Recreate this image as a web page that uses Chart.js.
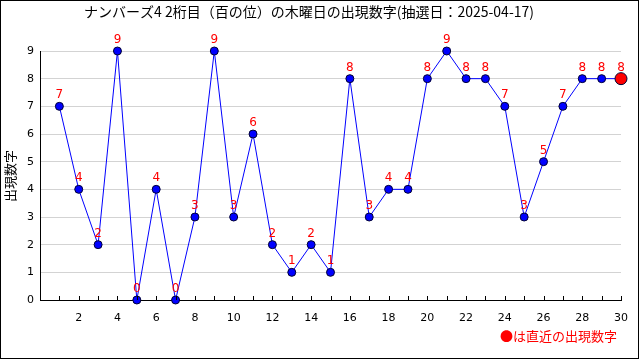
<!DOCTYPE html>
<html>
<head>
<meta charset="utf-8">
<script src="https://cdn.jsdelivr.net/npm/chart.js@4"></script>
<style>
  html, body { margin: 0; padding: 0; background: #fff; }
  #wrap { width: 640px; height: 360px; }
</style>
</head>
<body>
<div id="wrap"><canvas id="digitChart" width="640" height="360"></canvas></div>
<script>
// draw numbers (1..30) and the digit that came up
const draws = [1, 2, 3, 4, 5, 6, 7, 8, 9, 10, 11, 12, 13, 14, 15, 16, 17, 18, 19, 20, 21, 22, 23, 24, 25, 26, 27, 28, 29, 30];
const digits = [7, 4, 2, 9, 0, 4, 0, 3, 9, 3, 6, 2, 1, 2, 1, 8, 3, 4, 4, 8, 9, 8, 8, 7, 3, 5, 7, 8, 8, 8];
const yTicks = [0, 1, 2, 3, 4, 5, 6, 7, 8, 9];
const xLabels = [2, 4, 6, 8, 10, 12, 14, 16, 18, 20, 22, 24, 26, 28, 30];

const titleText = "ナンバーズ4 2桁目（百の位）の木曜日の出現数字(抽選日：2025-04-17)";
const yTitle = "出現数字";
const noteText = "●は直近の出現数字";

const lastIdx = digits.length - 1;
const cjk = '"Noto Sans CJK JP", "DejaVu Sans", sans-serif';

// title, axis title, value labels, inward ticks, frame
const decor = {
  id: "decor",
  afterDatasetsDraw(chart) {
    const c = chart.ctx;
    const x = chart.scales.x;
    const area = chart.chartArea;
    c.save();

    // ticks on the x axis, pointing up
    c.strokeStyle = "#000";
    c.lineWidth = 1;
    c.beginPath();
    draws.forEach(d => {
      const px = Math.round(x.getPixelForValue(d)) + 0.5;
      c.moveTo(px, area.bottom);
      c.lineTo(px, area.bottom - 4);
    });
    c.stroke();

    // value labels above each point
    c.fillStyle = "#ff0000";
    c.font = '12px "DejaVu Sans", sans-serif';
    c.textAlign = "center";
    c.textBaseline = "bottom";
    chart.getDatasetMeta(0).data.forEach((pt, i) => {
      c.fillText(String(digits[i]), pt.x, pt.y - 5);
    });

    // title
    c.fillStyle = "#000";
    c.font = "14px " + cjk;
    c.textBaseline = "middle";
    c.fillText(titleText, 309, 12);

    // y axis title
    c.font = "13px " + cjk;
    c.save();
    c.translate(10, 176);
    c.rotate(-Math.PI / 2);
    c.fillText(yTitle, 0, 0);
    c.restore();

    // note at bottom right
    c.fillStyle = "#ff0000";
    c.textAlign = "right";
    c.fillText(noteText, 617, 336);

    // outer frame
    c.strokeStyle = "#000";
    c.strokeRect(0.5, 0.5, 638, 358);
    c.restore();
  }
};

new Chart(document.getElementById("digitChart"), {
  type: "line",
  data: {
    datasets: [
      {
        data: draws.map((d, i) => ({ x: d, y: digits[i] })),
        borderColor: "#0000ff",
        borderWidth: 1,
        tension: 0,
        fill: false,
        clip: false,
        pointRadius: digits.map((v, i) => (i === lastIdx ? 6 : 4)),
        pointBackgroundColor: digits.map((v, i) => (i === lastIdx ? "#ff0000" : "#0000ff")),
        pointBorderColor: "#000033",
        pointBorderWidth: 1,
      },
    ],
  },
  options: {
    responsive: false,
    animation: false,
    events: [],
    layout: { padding: { left: 0, right: 19, top: 51, bottom: 0 } },
    plugins: {
      legend: { display: false },
      tooltip: { enabled: false },
      title: { display: false },
    },
    scales: {
      x: {
        type: "linear",
        min: 0,
        max: 30,
        afterFit(scale) { scale.height = 60; },
        afterBuildTicks(scale) {
          scale.ticks = xLabels.map(v => ({ value: v }));
        },
        ticks: {
          color: "#000",
          font: { family: '"DejaVu Sans", sans-serif', size: 11 },
          padding: 4,
          maxRotation: 0,
          autoSkip: false,
        },
        grid: { display: false },
        border: { display: true, color: "#000", width: 1 },
      },
      y: {
        min: 0,
        max: 9,
        afterFit(scale) { scale.width = 40; },
        afterBuildTicks(scale) {
          scale.ticks = yTicks.map(v => ({ value: v }));
        },
        ticks: {
          color: "#000",
          font: { family: '"DejaVu Sans", sans-serif', size: 11 },
          padding: 6,
        },
        grid: { color: "#d3d3d3", drawTicks: false },
        border: { display: true, color: "#000", width: 1 },
      },
    },
  },
  plugins: [decor],
});
</script>
</body>
</html>
